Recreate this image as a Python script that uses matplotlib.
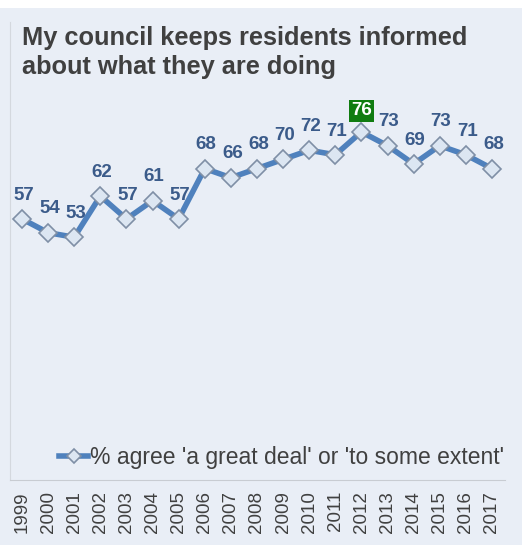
import numpy as np
import matplotlib.pyplot as plt

plt.rcParams['font.family'] = ['Liberation Sans', 'DejaVu Sans']

years = [str(y) for y in range(1999, 2018)]
values = [57, 54, 53, 62, 57, 61, 57, 68, 66, 68, 70, 72, 71, 76, 73, 69, 73, 71, 68]
highlight = '2012'

bg = '#e9eef6'
line_col = '#4f81bd'
label_col = '#3b5b8a'

fig = plt.figure(figsize=(5.22, 5.45), dpi=100, facecolor=bg)
# white strip on top
fig.patches.append(plt.Rectangle((0, 1 - 8 / 545), 1, 8 / 545, transform=fig.transFigure,
                                 facecolor='white', edgecolor='none'))
ax = fig.add_axes([10 / 522, 1 - 480 / 545, 495 / 522, 458 / 545], facecolor=bg)

x = np.arange(len(years))
ax.plot(x, values, color=line_col, lw=4, marker='D', ms=9, mfc='#dce6f2', mec='#7f8fa6',
        mew=1.2, label="% agree 'a great deal' or 'to some extent'", zorder=3)

for i, v in enumerate(values):
    if years[i] == highlight:
        ax.annotate(str(v), (i, v), xytext=(0, 9), textcoords='offset points', ha='center',
                    va='bottom', fontsize=13.5, fontweight='bold', color='white',
                    bbox=dict(boxstyle='square,pad=0.12', fc='#107c10', ec='none'))
    else:
        ax.annotate(str(v), (i, v), xytext=(1, 11), textcoords='offset points', ha='center',
                    va='bottom', fontsize=13.5, fontweight='bold', color=label_col)

ax.set_xlim(-0.46, 18.5)
ax.set_ylim(0, 100)
ax.set_yticks([])
ax.set_xticks(x)
ax.set_xticklabels(years, rotation=90, fontsize=13.5, color='#404040')
ax.tick_params(axis='x', length=0, pad=8)
for s in ['top', 'right']:
    ax.spines[s].set_visible(False)
ax.spines['left'].set_color('#d4d8de')
ax.spines['bottom'].set_color('#c8ccd2')

leg = ax.legend(loc='lower right', bbox_to_anchor=(1.025, -0.005), frameon=False, fontsize=16.5,
                handlelength=1.3, handletextpad=0.05, borderaxespad=0.2, markerscale=0.75)
for t in leg.get_texts():
    t.set_color('#404040')

fig.text(22 / 522, 1 - 26 / 545, 'My council keeps residents informed\nabout what they are doing',
         ha='left', va='top', fontsize=18.3, fontweight='bold', color='#404040', linespacing=1.25)

fig.savefig('out.png', dpi=100, facecolor=bg)
